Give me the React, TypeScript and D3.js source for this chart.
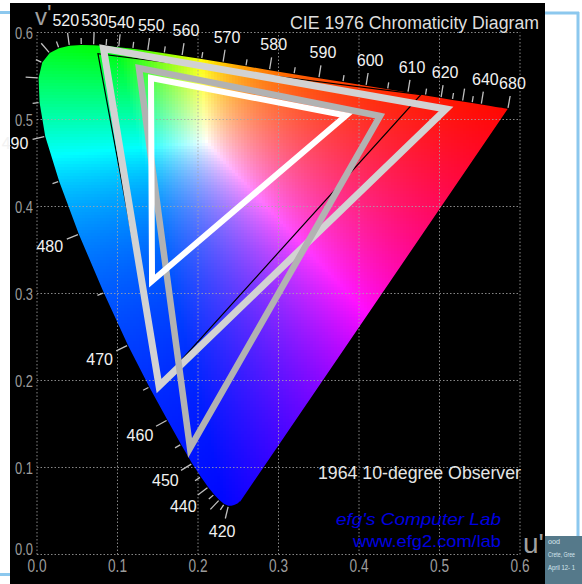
import React, { useMemo } from "react";
import * as d3 from "d3";

// CIE 1964 10-degree observer spectral locus (u', v'), 5 nm steps
const wavelengths = [
  380, 385, 390, 395, 400, 405, 410, 415, 420, 425, 430, 435, 440, 445, 450, 455, 460, 465, 470, 475,
  480, 485, 490, 495, 500, 505, 510, 515, 520, 525, 530, 535, 540, 545, 550, 555, 560, 565, 570, 575,
  580, 585, 590, 595, 600, 605, 610, 615, 620, 625, 630, 635, 640, 645, 650, 655, 660, 665, 670, 675, 680,
];
const locusU = [
  0.2525, 0.2519, 0.2512, 0.2502, 0.249, 0.247, 0.2448, 0.2415, 0.2377, 0.2325, 0.2265, 0.22, 0.2127, 0.2035,
  0.1927, 0.179, 0.162, 0.1395, 0.113, 0.083, 0.052, 0.0275, 0.0102, 0.0032, 0.002, 0.0065, 0.0158, 0.0272,
  0.0402, 0.055, 0.0703, 0.0858, 0.1015, 0.119, 0.1375, 0.158, 0.1801, 0.2045, 0.231, 0.2595, 0.2888, 0.3193,
  0.3501, 0.38, 0.4087, 0.4355, 0.4607, 0.4825, 0.5018, 0.516, 0.5286, 0.5405, 0.5518, 0.5615, 0.57, 0.5742,
  0.5775, 0.58, 0.5822, 0.5837, 0.5849,
];
const locusV = [
  0.061, 0.0608, 0.0605, 0.0596, 0.0587, 0.0577, 0.0568, 0.056, 0.0559, 0.058, 0.0627, 0.069, 0.0773, 0.0893,
  0.1045, 0.1265, 0.1546, 0.1925, 0.2406, 0.301, 0.368, 0.429, 0.4807, 0.5195, 0.5477, 0.5655, 0.5763, 0.582,
  0.5847, 0.5856, 0.5854, 0.5845, 0.5831, 0.5812, 0.5789, 0.5761, 0.573, 0.5694, 0.5654, 0.5612, 0.5567, 0.5521,
  0.5475, 0.543, 0.5387, 0.5347, 0.5309, 0.5276, 0.5247, 0.5225, 0.5207, 0.5189, 0.5172, 0.5157, 0.5145, 0.5139,
  0.5134, 0.513, 0.5127, 0.5125, 0.5123,
];

const tickWavelengths = [
  420, 425, 430, 435, 440, 445, 450, 455, 460, 465, 470, 475, 480, 485, 490, 495, 500, 505, 510, 515, 520, 525,
  530, 535, 540, 545, 550, 555, 560, 565, 570, 575, 580, 585, 590, 595, 600, 605, 610, 615, 620, 625, 630, 635,
  640, 680,
];
const labelWavelengths = [
  420, 440, 450, 460, 470, 480, 490, 520, 530, 540, 550, 560, 570, 580, 590, 600, 610, 620, 640, 680,
];

const axisTicks = [0, 0.1, 0.2, 0.3, 0.4, 0.5, 0.6];
const axisTickLabels = ["0.0", "0.1", "0.2", "0.3", "0.4", "0.5", "0.6"];

// gamut triangles (R, G, B) in u', v'
const ntscU = [0.4769, 0.0757, 0.1522];
const ntscV = [0.5285, 0.5757, 0.1957];
const wideU = [0.5081, 0.0826, 0.1516];
const wideV = [0.5121, 0.5816, 0.1937];
const midU = [0.4261, 0.1267, 0.1901];
const midV = [0.504, 0.5592, 0.1224];
const innerU = [0.3839, 0.1416, 0.1429];
const innerV = [0.5046, 0.5477, 0.3144];

const photoCaption = ["ood", "Crete, Gree", "April 12- 1"];

const W = 582;
const H = 584;
const FONT = "'Liberation Sans', Arial, Helvetica, sans-serif";

const xs = d3.scaleLinear().domain([0, 0.6]).range([37, 520]);
const ys = d3.scaleLinear().domain([0, 0.6]).range([554.5, 32.5]);

function uvColor(u: number, v: number) {
  const d = 6 * u - 16 * v + 12;
  const cx = (9 * u) / d;
  const cy = (4 * v) / d;
  if (cy <= 0.0001) return "rgb(0,0,255)";
  const X = cx / cy;
  const Y = 1;
  const Z = (1 - cx - cy) / cy;
  // CIE RGB (wide primaries), equal-energy white
  let r = 2.3647 * X - 0.8966 * Y - 0.4681 * Z;
  let g = -0.5152 * X + 1.4264 * Y + 0.0887 * Z;
  let b = 0.0052 * X - 0.0144 * Y + 1.0092 * Z;
  r = Math.max(0, r);
  g = Math.max(0, g);
  b = Math.max(0, b);
  const m = Math.max(r, g, b);
  if (m <= 0) return "rgb(0,0,0)";
  const p = 0.9;
  const R = Math.round(255 * Math.pow(r / m, p));
  const G = Math.round(255 * Math.pow(g / m, p));
  const B = Math.round(255 * Math.pow(b / m, p));
  return `rgb(${R},${G},${B})`;
}

function triPath(us: number[], vs: number[]) {
  return d3.line()(us.map((u, i) => [xs(u), ys(vs[i])] as [number, number])) + "Z";
}

export default function App() {
  const pts = useMemo(
    () => wavelengths.map((_, i) => [xs(locusU[i]), ys(locusV[i])] as [number, number]),
    []
  );
  const locusPath = d3.line()(pts) + "Z";

  const cells = useMemo(() => {
    const step = 3;
    const ex = d3.extent(pts, (p) => p[0]) as [number, number];
    const ey = d3.extent(pts, (p) => p[1]) as [number, number];
    const out: { x: number; y: number; f: string }[] = [];
    for (let py = Math.floor(ey[0]) - 1; py < ey[1] + 1; py += step) {
      for (let px = Math.floor(ex[0]) - 1; px < ex[1] + 1; px += step) {
        const c: [number, number] = [px + step / 2, py + step / 2];
        const cand: [number, number][] = [
          c,
          [px, py],
          [px + step, py],
          [px, py + step],
          [px + step, py + step],
        ];
        const ok = cand.find((q) => d3.polygonContains(pts, q));
        if (!ok) continue;
        out.push({ x: px, y: py, f: uvColor(xs.invert(ok[0]), ys.invert(ok[1])) });
      }
    }
    return out;
  }, [pts]);

  const centre = [200, 260];
  const normalAt = (i: number) => {
    const a = pts[Math.max(0, i - 1)];
    const b = pts[Math.min(pts.length - 1, i + 1)];
    const tx = b[0] - a[0];
    const ty = b[1] - a[1];
    const len = Math.hypot(tx, ty) || 1;
    let nx = ty / len;
    let ny = -tx / len;
    const p = pts[i];
    if (nx * (p[0] - centre[0]) + ny * (p[1] - centre[1]) < 0) {
      nx = -nx;
      ny = -ny;
    }
    return [nx, ny];
  };

  const ticks = tickWavelengths.map((w) => {
    const i = wavelengths.indexOf(w);
    const p = pts[i];
    const [nx, ny] = normalAt(i);
    const L = w % 10 === 0 ? 12 : 6;
    return { w, x1: p[0] + nx * 1, y1: p[1] + ny * 1, x2: p[0] + nx * (1 + L), y2: p[1] + ny * (1 + L) };
  });

  const labels = labelWavelengths.map((w) => {
    const i = wavelengths.indexOf(w);
    const p = pts[i];
    const [nx, ny] = normalAt(i);
    const off = 18 + Math.abs(nx) * 12 + Math.abs(ny) * 6;
    return { w, x: p[0] + nx * off, y: p[1] + ny * off };
  });

  return (
    <svg
      width={W}
      height={H}
      viewBox={`0 0 ${W} ${H}`}
      style={{ position: "fixed", left: 0, top: 0, background: "#ffffff" }}
    >
      <defs>
        <clipPath id="locusClip">
          <path d={locusPath} />
        </clipPath>
      </defs>
      <rect x={0} y={0} width={W} height={H} fill="#ffffff" />
      {/* page decorations */}
      <line x1={0} y1={12.5} x2={10} y2={12.5} stroke="#8cc8ee" strokeWidth={3} />
      <line x1={0} y1={574.5} x2={10} y2={574.5} stroke="#8cc8ee" strokeWidth={3} />
      <line x1={545} y1={13} x2={579} y2={13} stroke="#8cc8ee" strokeWidth={3} />
      <line x1={578} y1={12} x2={578} y2={536} stroke="#8cc8ee" strokeWidth={3} />
      <rect x={545} y={536} width={37} height={48} fill="#55798a" />
      <g fontFamily={FONT} fontSize={6.5} fill="#d5e6ee">
        {photoCaption.map((t, i) => (
          <text key={t} x={548} y={544 + i * 13} textLength={i === 0 ? 12 : 27} lengthAdjust="spacingAndGlyphs">
            {t}
          </text>
        ))}
      </g>

      <rect x={10} y={3} width={535} height={581} fill="#000000" />

      {/* chromaticity fill */}
      <g clipPath="url(#locusClip)">
        {cells.map((c, k) => (
          <rect key={k} x={c.x} y={c.y} width={3} height={3} fill={c.f} shapeRendering="crispEdges" />
        ))}
      </g>

      {/* grid */}
      <g stroke="#a8a8a8" strokeOpacity={0.8} strokeWidth={1} strokeDasharray="1.5,2">
        {axisTicks.map((t) => (
          <line key={"v" + t} x1={xs(t)} x2={xs(t)} y1={ys(0)} y2={ys(0.6)} />
        ))}
        {axisTicks.map((t) => (
          <line key={"h" + t} x1={xs(0)} x2={xs(0.6)} y1={ys(t)} y2={ys(t)} />
        ))}
      </g>

      {/* wavelength ticks */}
      <g stroke="#c0c0c0" strokeWidth={1.3}>
        {ticks.map((t) => (
          <line key={t.w} x1={t.x1} y1={t.y1} x2={t.x2} y2={t.y2} />
        ))}
      </g>
      <g fontFamily={FONT} fontSize={16} fill="#f2f2f2" textAnchor="middle">
        {labels.map((l) => (
          <text key={l.w} x={l.x} y={l.y + 5.7}>
            {l.w}
          </text>
        ))}
      </g>

      {/* gamut triangles */}
      <path d={triPath(ntscU, ntscV)} fill="none" stroke="#000000" strokeWidth={1.2} strokeLinejoin="miter" />
      <path d={triPath(wideU, wideV)} fill="none" stroke="#d2d2d2" strokeWidth={7} strokeLinejoin="miter" />
      <path d={triPath(midU, midV)} fill="none" stroke="#b2b2b2" strokeWidth={6.5} strokeLinejoin="miter" />
      <path d={triPath(innerU, innerV)} fill="none" stroke="#ffffff" strokeWidth={6} strokeLinejoin="miter" />

      {/* axis tick labels */}
      <g fontFamily={FONT} fontSize={17} fill="#9c9c9c">
        {axisTicks.map((t, i) => (
          <text
            key={"yl" + t}
            x={33}
            y={ys(t) + (t === 0 ? 0.5 : 6)}
            textAnchor="end"
            textLength={18}
            lengthAdjust="spacingAndGlyphs"
          >
            {axisTickLabels[i]}
          </text>
        ))}
        {axisTicks.map((t, i) => (
          <text
            key={"xl" + t}
            x={xs(t)}
            y={572}
            fontSize={18}
            textAnchor="middle"
            textLength={19}
            lengthAdjust="spacingAndGlyphs"
          >
            {axisTickLabels[i]}
          </text>
        ))}
      </g>
      <text x={35} y={25} fontFamily={FONT} fontSize={24} fill="#a0a0a0">
        v<tspan dy={-3}>'</tspan>
      </text>
      <text x={523} y={553} fontFamily={FONT} fontSize={28} fill="#a0a0a0">
        u'
      </text>

      {/* titles */}
      <text
        x={290}
        y={29}
        fontFamily={FONT}
        fontSize={18}
        fill="#dedede"
        textLength={249}
        lengthAdjust="spacingAndGlyphs"
      >
        CIE 1976 Chromaticity Diagram
      </text>
      <text
        x={318}
        y={479}
        fontFamily={FONT}
        fontSize={18}
        fill="#e6e6e6"
        textLength={203}
        lengthAdjust="spacingAndGlyphs"
      >
        1964 10-degree Observer
      </text>
      <text
        x={336}
        y={525}
        fontFamily={FONT}
        fontSize={17}
        fontStyle="italic"
        fill="#0000e0"
        textLength={165}
        lengthAdjust="spacingAndGlyphs"
      >
        efg's Computer Lab
      </text>
      <text
        x={353}
        y={547}
        fontFamily={FONT}
        fontSize={17}
        fill="#0000e0"
        textLength={148}
        lengthAdjust="spacingAndGlyphs"
      >
        www.efg2.com/lab
      </text>
    </svg>
  );
}
